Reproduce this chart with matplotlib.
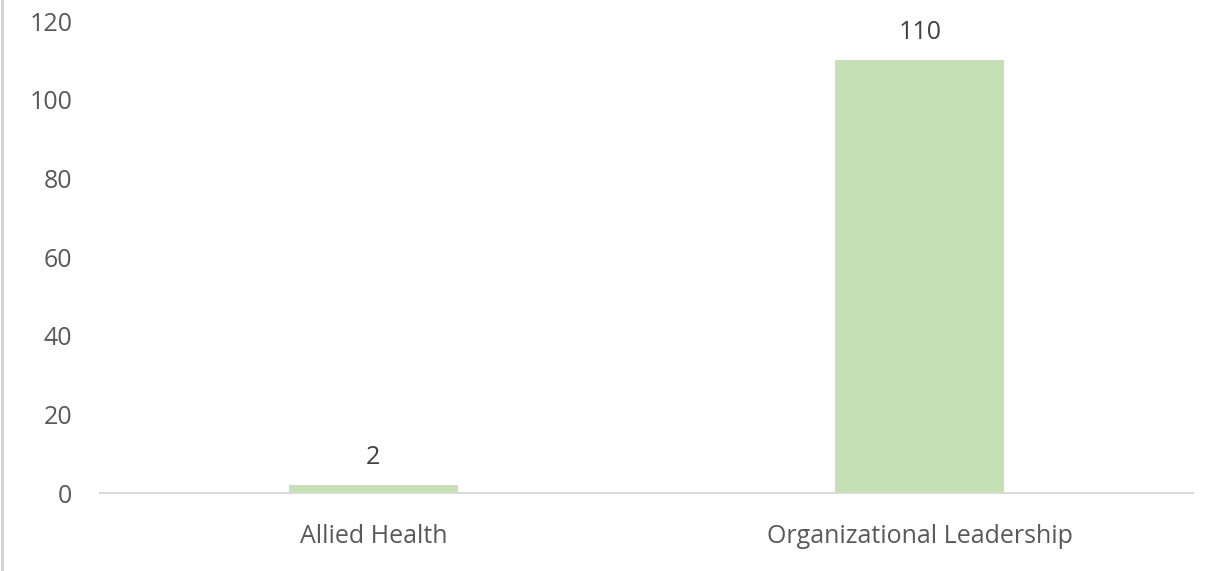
import matplotlib
matplotlib.use("Agg")
from matplotlib import pyplot as plt
from matplotlib.lines import Line2D

categories = ["Allied Health", "Organizational Leadership"]
values = [2, 110]
yticks = [0, 20, 40, 60, 80, 100, 120]

plt.rcParams['font.family'] = ['Open Sans', 'DejaVu Sans']

fig = plt.figure(figsize=(12.27, 5.71), dpi=100)
ax = fig.add_axes([0.0815, 0.1366, 0.8908, 0.8266])

x = list(range(len(categories)))
bars = ax.bar(x, values, width=0.31, color="#c5e0b4", zorder=2)
for xi, v in zip(x, values):
    ax.annotate(str(v), (xi, v), xytext=(0, 11), textcoords="offset points",
                ha="center", va="bottom", fontsize=18, color="#404040")

ax.set_xlim(-0.5, 1.5)
ax.set_ylim(0, 120)
ax.set_yticks(yticks)
ax.set_xticks(x)
ax.set_xticklabels(categories)
ax.tick_params(axis="both", length=0, labelsize=18, labelcolor="#595959")
ax.tick_params(axis="y", pad=20)
ax.tick_params(axis="x", pad=22)

for s in ["top", "right", "left"]:
    ax.spines[s].set_visible(False)
ax.spines["bottom"].set_color("#d9d9d9")
ax.spines["bottom"].set_linewidth(1.5)

# thin border line on the left edge of the picture
fig.add_artist(Line2D([0.002, 0.002], [0, 1], transform=fig.transFigure, color="#d0d0d0", linewidth=2))

fig.savefig("out.png", dpi=100)
